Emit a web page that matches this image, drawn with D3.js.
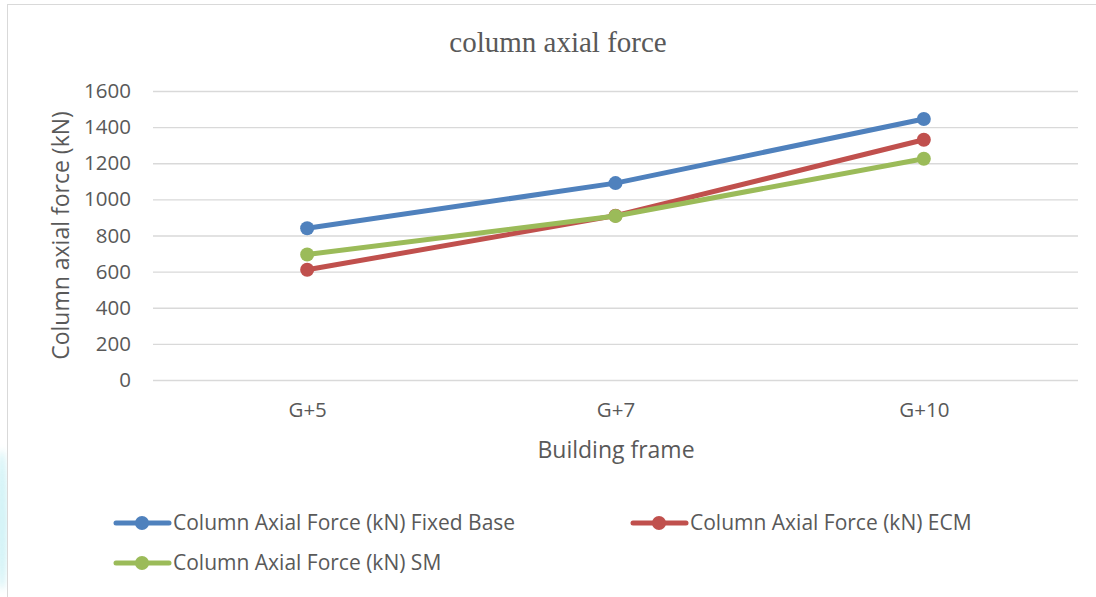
<!DOCTYPE html>
<html><head><meta charset="utf-8">
<script src="https://cdn.jsdelivr.net/npm/d3@7/dist/d3.min.js"></script>
<style>html,body{margin:0;padding:0;background:#fff;overflow:hidden}</style>
</head><body>
<svg id="chart" width="1096" height="597"></svg>
<script>
const categories = ["G+5", "G+7", "G+10"];
const fixedBase = [840, 1090, 1445];
const ecm = [610, 910, 1330];
const sm = [695, 908, 1225];
const yTicks = [0, 200, 400, 600, 800, 1000, 1200, 1400, 1600];
const seriesNames = ["Column Axial Force (kN) Fixed Base", "Column Axial Force (kN) ECM", "Column Axial Force (kN) SM"];
const seriesColors = ["#4f81bd", "#c0504d", "#9bbb59"];
const series = [fixedBase, ecm, sm];

const svg = d3.select("#chart");
const font = "'Open Sans', 'Noto Sans', sans-serif";
const textColor = "#595959";

// background artifact at left edge
const defs = svg.append("defs");
const f = defs.append("filter").attr("id","blur").attr("x","-50%").attr("y","-50%").attr("width","200%").attr("height","200%");
f.append("feGaussianBlur").attr("stdDeviation", 3);
svg.append("ellipse").attr("cx", 2).attr("cy", 520).attr("rx", 6).attr("ry", 70)
  .attr("fill", "#c8f0f4").attr("opacity", 0.8).attr("filter","url(#blur)");

// chart border
svg.append("rect").attr("x", 7.5).attr("y", 4.5).attr("width", 1100).attr("height", 600)
  .attr("fill", "#fff").attr("stroke", "#d9d9d9").attr("stroke-width", 1);

const pLeft = 153, pRight = 1078, pTop = 91, pBottom = 380;
const x = d3.scalePoint().domain(categories).range([pLeft, pRight]).padding(0.5);
const y = d3.scaleLinear().domain([0, 1600]).range([pBottom, pTop]);

// gridlines
const yAxis = d3.axisLeft(y).tickValues(yTicks).tickFormat(d3.format("d")).tickSize(-(pRight - pLeft)).tickPadding(22);
const gy = svg.append("g").attr("transform", `translate(${pLeft},0)`).call(yAxis);
gy.select(".domain").remove();
gy.selectAll(".tick line").attr("stroke", "#d9d9d9").attr("stroke-width", 1.3);
gy.selectAll(".tick text").attr("fill", textColor).style("font-family", font).style("font-size", "20.5px");

// x axis labels
const xAxis = d3.axisBottom(x).tickSize(0).tickPadding(22);
const gx = svg.append("g").attr("transform", `translate(0,${pBottom})`).call(xAxis);
gx.select(".domain").remove();
gx.selectAll(".tick text").attr("fill", textColor).style("font-family", font).style("font-size", "20.5px");

// title
svg.append("text").attr("x", 558).attr("y", 52).attr("text-anchor", "middle")
  .attr("fill", textColor).style("font-family", "'Liberation Serif', 'DejaVu Serif', serif").style("font-size", "29px")
  .text("column axial force");

// axis titles
svg.append("text").attr("transform", `translate(69,${(pTop+pBottom)/2}) rotate(-90)`)
  .attr("text-anchor", "middle").attr("fill", textColor).style("font-family", font).style("font-size", "23px")
  .text("Column axial force (kN)");
svg.append("text").attr("x", 616).attr("y", 458).attr("text-anchor", "middle")
  .attr("fill", textColor).style("font-family", font).style("font-size", "23px")
  .text("Building frame");

// series
const line = d3.line().x((d, i) => x(categories[i])).y(d => y(d));
series.forEach((vals, si) => {
  const g = svg.append("g");
  g.append("path").datum(vals).attr("d", line).attr("fill", "none")
    .attr("stroke", seriesColors[si]).attr("stroke-width", 5).attr("stroke-linecap", "round").attr("stroke-linejoin", "round");
  g.selectAll("circle").data(vals).join("circle")
    .attr("cx", (d, i) => x(categories[i])).attr("cy", d => y(d)).attr("r", 7)
    .attr("fill", seriesColors[si]);
});

// legend
const legendPos = [[114, 523], [631, 523], [114, 563]];
seriesNames.forEach((name, i) => {
  const [lx, ly] = legendPos[i];
  const g = svg.append("g").attr("transform", `translate(${lx},${ly})`);
  g.append("line").attr("x1", 2).attr("x2", 55).attr("y1", 0).attr("y2", 0)
    .attr("stroke", seriesColors[i]).attr("stroke-width", 5).attr("stroke-linecap", "round");
  g.append("circle").attr("cx", 28).attr("cy", 0).attr("r", 7).attr("fill", seriesColors[i]);
  g.append("text").attr("x", 59).attr("y", 0).attr("dy", "0.35em").attr("fill", textColor)
    .style("font-family", font).style("font-size", "21px").text(name);
});
</script>
</body></html>
